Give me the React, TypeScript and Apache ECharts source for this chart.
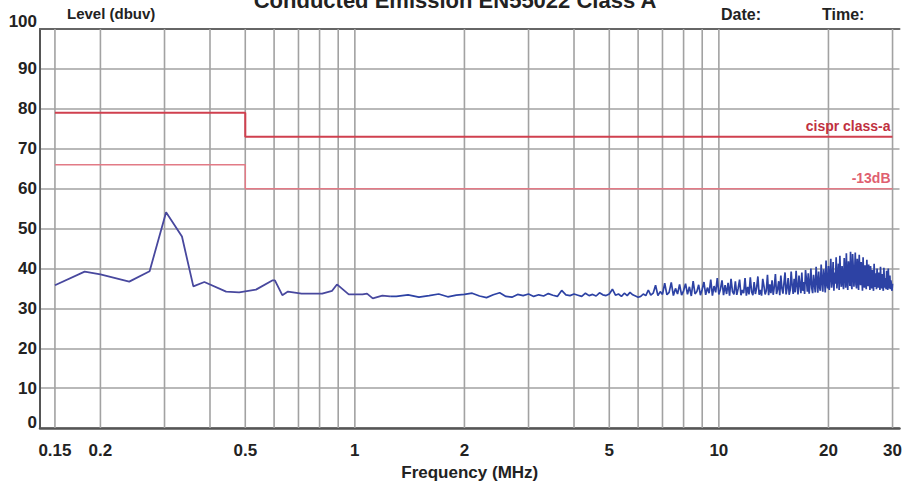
import React, { useEffect, useRef } from "react";
import * as echarts from "echarts";

// ---- data ----
const xTickLabels = [0.15, 0.2, 0.5, 1, 2, 5, 10, 20, 30];
const gridFreqs = [0.15, 0.2, 0.3, 0.4, 0.5, 0.6, 0.7, 0.8, 0.9, 1, 2, 3, 4, 5, 6, 7, 8, 9, 10, 20, 30];

const limitFreq = [0.15, 0.5, 0.5, 30];
const limitA = [79, 79, 73, 73];
const limitMargin = [66, 66, 60, 60];

const lowFreq = [0.15, 0.181, 0.2, 0.24, 0.273, 0.303, 0.335, 0.36, 0.386, 0.443, 0.481, 0.535, 0.593, 0.603, 0.632, 0.655, 0.714, 0.813, 0.866, 0.893, 0.962, 1.05, 1.08, 1.12, 1.19, 1.25];
const lowLevel = [35.8, 39.2, 38.5, 36.7, 39.3, 54.1, 48.0, 35.5, 36.6, 34.2, 34.0, 34.7, 37.0, 37.0, 33.3, 34.2, 33.7, 33.7, 34.4, 36.0, 33.5, 33.5, 33.7, 32.5, 33.2, 33.0];

// sweep from 1.3 MHz to 30 MHz in 0.1 MHz steps
const sweepStart = 1.3;
const sweepStep = 0.1;
const sweepLevel = [
  33.0, 33.4, 32.8, 33.2, 33.6, 32.9, 33.3, 33.5,
  33.8, 33.1, 32.7, 33.4, 33.9, 33.0, 32.8, 33.5, 33.2, 33.6,
  33.0, 33.4, 33.1, 33.7, 33.3, 33.0, 34.5, 33.4, 33.2, 33.6,
  33.3, 33.0, 33.8, 33.2, 33.5, 33.1, 33.9, 33.4, 33.2, 33.6,
  34.8, 33.3, 33.6, 33.0, 33.8, 33.2, 34.0, 33.4, 33.1, 32.8,
  33.0, 33.6, 33.2, 34.6, 33.3, 33.8, 35.8, 33.2, 34.2, 33.5,
  36.3, 33.4, 34.0, 36.5, 33.2, 35.0, 33.6, 36.0, 33.3, 34.4,
  36.2, 33.5, 35.4, 33.1, 36.8, 33.6, 34.2, 35.9, 33.3, 34.8,
  36.6, 33.4, 35.2, 33.8, 37.2, 33.2, 35.6, 34.0, 37.6, 33.5,
  34.8, 37.0, 33.3, 35.8, 33.6, 36.4, 33.2, 37.4, 34.2, 33.5,
  36.8, 33.4, 35.0, 37.2, 33.3, 34.6, 33.8, 37.6, 33.2, 35.4,
  33.5, 37.8, 34.2, 33.3, 36.6, 33.6, 35.2, 38.0, 33.4, 34.6,
  33.2, 37.4, 35.6, 33.5, 34.4, 38.4, 33.3, 36.0, 33.8, 37.0,
  33.4, 35.4, 38.6, 33.6, 34.8, 36.8, 33.3, 38.2, 35.0, 33.7,
  36.4, 39.0, 33.5, 35.2, 37.6, 33.4, 34.6, 39.2, 35.8, 33.6,
  37.4, 34.0, 39.4, 35.6, 33.5, 38.2, 36.0, 33.8, 39.0, 34.4,
  36.6, 33.6, 39.6, 37.2, 34.2, 38.8, 33.7, 36.4, 40.0, 35.0,
  33.8, 38.4, 36.2, 34.0, 40.4, 37.0, 33.9, 39.2, 35.4, 34.4,
  41.0, 36.8, 34.2, 39.8, 37.6, 34.0, 42.0, 36.0, 35.0, 40.6,
  34.6, 38.4, 42.4, 35.2, 37.0, 41.6, 34.4, 39.0, 36.2, 42.8,
  35.0, 38.0, 41.2, 34.6, 43.2, 37.4, 35.4, 40.6, 36.8, 34.8,
  42.6, 38.6, 35.2, 43.8, 37.0, 34.6, 41.8, 39.4, 35.6, 44.2,
  36.4, 34.8, 43.6, 40.2, 35.4, 38.6, 44.0, 36.0, 35.0, 42.4,
  39.2, 34.6, 43.4, 37.6, 35.8, 41.6, 38.2, 34.4, 42.8, 36.6,
  35.2, 40.8, 38.0, 34.8, 42.2, 36.4, 35.6, 41.0, 37.2, 34.6,
  40.6, 38.4, 35.0, 39.6, 36.2, 34.4, 41.2, 37.0, 35.4, 38.8,
  34.8, 40.0, 36.6, 35.2, 39.0, 37.8, 34.6, 40.4, 36.0, 35.0,
  38.6, 35.6, 34.4, 40.2, 36.8, 35.2, 37.6, 34.8, 39.4, 35.8,
  34.6, 40.0, 36.4, 35.0, 38.2, 34.8, 37.0, 35.4, 34.4, 36.2,
];

const FONT = "'Liberation Sans', Arial, sans-serif";
const TXT = "#222";
const lg = (f: number) => Math.log10(f);
const X_MIN = lg(0.15) - 15 / 365.5;
const X_MAX = lg(30) + 7 / 365.5;

export default function App() {
  const ref = useRef<HTMLDivElement>(null);
  useEffect(() => {
    if (!ref.current) return;
    const chart = echarts.init(ref.current, null, { renderer: "svg" });

    const lowTrace: number[][] = lowFreq.map((f, i) => [lg(f), lowLevel[i]]);
    const sweepTrace: number[][] = [lowTrace[lowTrace.length - 1]];
    sweepLevel.forEach((v, i) => sweepTrace.push([lg(sweepStart + i * sweepStep), v]));

    const gridSeries = gridFreqs.map((f) => ({
      type: "line",
      silent: true,
      z: 1,
      symbol: "none",
      lineStyle: { color: "#a2a2a2", width: 1.6 },
      data: [[lg(f), 0], [lg(f), 100]],
    }));

    const limitSeries = (vals: number[], label: string, lineColor: string, textColor: string, width: number, z: number) => ({
      type: "line",
      z,
      silent: true,
      symbol: "none",
      lineStyle: { color: lineColor, width },
      data: limitFreq.map((f, i) => [lg(f), vals[i]]),
      endLabel: {
        show: true,
        formatter: label,
        align: "right",
        verticalAlign: "bottom",
        distance: 0,
        offset: [-2, -4],
        color: textColor,
        fontFamily: FONT,
        fontWeight: "bold",
        fontSize: 14,
      },
    });

    const option: any = {
      animation: false,
      backgroundColor: "#ffffff",
      grid: { left: 40, right: 2, top: 29, bottom: 48 },
      graphic: [
        {
          type: "text",
          x: 455,
          y: 0,
          style: {
            text: "Conducted Emission EN55022 Class A",
            font: `bold 22px ${FONT}`,
            fill: TXT,
            align: "center",
            verticalAlign: "middle",
          },
        },
        {
          type: "text",
          x: 721,
          y: 14,
          style: { text: "Date:", font: `bold 16px ${FONT}`, fill: TXT, verticalAlign: "middle" },
        },
        {
          type: "text",
          x: 822,
          y: 14,
          style: { text: "Time:", font: `bold 16px ${FONT}`, fill: TXT, verticalAlign: "middle" },
        },
      ],
      xAxis: [
        {
          type: "value",
          min: X_MIN,
          max: X_MAX,
          name: "Frequency (MHz)",
          nameLocation: "middle",
          nameGap: 33,
          nameTextStyle: { fontFamily: FONT, fontWeight: "bold", fontSize: 17, color: TXT },
          axisLine: { show: true, onZero: false, lineStyle: { color: "#555", width: 2.5 } },
          axisTick: { show: false },
          splitLine: { show: false },
          axisLabel: {
            customValues: xTickLabels.map(lg),
            margin: 14,
            fontFamily: FONT,
            fontWeight: "bold",
            fontSize: 17,
            color: TXT,
            formatter: (v: number) => {
              let best = xTickLabels[0];
              xTickLabels.forEach((t) => {
                if (Math.abs(lg(t) - v) < Math.abs(lg(best) - v)) best = t;
              });
              return String(best);
            },
          },
        },
        {
          type: "value",
          position: "top",
          min: X_MIN,
          max: X_MAX,
          axisLine: { show: true, onZero: false, lineStyle: { color: "#666", width: 2 } },
          axisTick: { show: false },
          axisLabel: { show: false },
          splitLine: { show: false },
        },
      ],
      yAxis: {
        type: "value",
        min: 0,
        max: 100,
        interval: 10,
        name: "Level (dbuv)",
        nameLocation: "end",
        nameGap: 8,
        nameTextStyle: {
          fontFamily: FONT,
          fontWeight: "bold",
          fontSize: 15,
          color: TXT,
          align: "left",
          padding: [0, 0, 0, 27],
        },
        axisLine: { show: true, onZero: false, lineStyle: { color: "#555", width: 2 } },
        axisTick: { show: false },
        splitLine: { show: true, lineStyle: { color: "#a2a2a2", width: 1.6 } },
        axisLabel: {
          margin: 3,
          fontFamily: FONT,
          fontWeight: "bold",
          fontSize: 17,
          color: TXT,
          formatter: (v: number) => (v === 100 ? `{u|${v}}` : v === 0 ? `{z|${v}}` : String(v)),
          rich: {
            u: { padding: [0, 0, 16, 0], fontFamily: FONT, fontWeight: "bold", fontSize: 17, color: TXT },
            z: { padding: [0, 0, 12, 0], fontFamily: FONT, fontWeight: "bold", fontSize: 17, color: TXT },
          },
        },
      },
      series: [
        ...gridSeries,
        limitSeries(limitMargin, "-13dB", "#e27a86", "#e06070", 1.5, 2),
        limitSeries(limitA, "cispr class-a", "#d0404f", "#c0303f", 2, 3),
        {
          type: "line",
          z: 4,
          silent: true,
          symbol: "none",
          lineStyle: { color: "#48489e", width: 1.8 },
          data: lowTrace,
        },
        {
          type: "line",
          z: 4,
          silent: true,
          symbol: "none",
          lineStyle: { color: "#2d42a4", width: 1.7 },
          data: sweepTrace,
        },
      ],
    };
    chart.setOption(option);
    return () => chart.dispose();
  }, []);
  return <div ref={ref} style={{ width: 905, height: 486, position: "absolute", left: 0, top: 0 }} />;
}
